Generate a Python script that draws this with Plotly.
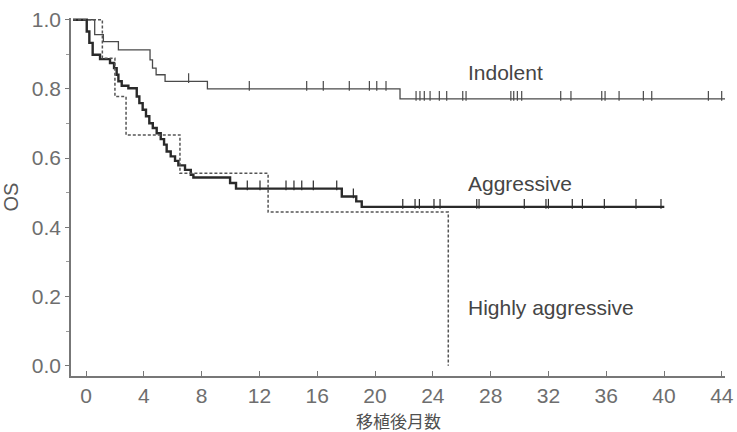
import numpy as np
import plotly.graph_objects as go

# ---- data (months, overall survival) ----
ind_t = [-0.9, 0.6, 1.2, 2.24, 4.43, 4.6, 4.85, 5.47, 8.4, 21.73, 44.7]
ind_s = [1.0, 0.957, 0.937, 0.913, 0.884, 0.860, 0.841, 0.822, 0.800, 0.771, 0.771]
ind_cens = [7.1, 11.3, 15.27, 16.42, 18.22, 19.61, 20.12, 20.76,
            22.84, 23.11, 23.41, 23.81, 24.45, 24.96, 26.07, 26.30,
            29.4, 29.6, 29.85, 30.15, 32.85, 33.56, 35.69, 35.92, 36.89,
            38.57, 39.15, 43.07, 43.99, 44.61]

agg_t = [-0.9, 0.05, 0.23, 0.46, 0.97, 1.66, 1.94, 2.12, 2.24, 2.47, 2.93,
         3.51, 3.69, 3.92, 4.15, 4.38, 4.62, 4.89, 5.17, 5.40, 5.58, 5.86,
         6.16, 6.39, 6.85, 7.25, 7.43, 9.97, 10.38, 17.7, 18.7, 19.08, 40.02]
agg_s = [1.0, 0.966, 0.933, 0.899, 0.886, 0.875, 0.860, 0.841, 0.822, 0.809, 0.802,
         0.778, 0.759, 0.740, 0.721, 0.701, 0.687, 0.672, 0.655, 0.639, 0.619, 0.605,
         0.592, 0.579, 0.566, 0.552, 0.544, 0.528, 0.512, 0.489, 0.475, 0.459, 0.459]
agg_cens = [11.16, 12.04, 13.84, 14.39, 14.93, 15.73, 17.35, 18.5,
            21.92, 22.77, 23.07, 24.08, 24.50, 27.04, 27.20, 30.33, 31.83, 32.0,
            33.65, 34.35, 35.87, 38.06, 39.79]

hig_t = [-0.9, 1.13, 2.0, 2.77, 6.5, 12.6, 25.07]
hig_s = [1.0, 0.889, 0.778, 0.667, 0.556, 0.444, 0.0]

labels = ["Indolent", "Aggressive", "Highly aggressive"]
label_x = [26.3, 26.3, 26.3]
label_y = [0.847, 0.526, 0.168]

x_ticks = list(range(0, 45, 4))
y_ticks = [0.0, 0.2, 0.4, 0.6, 0.8, 1.0]
x_title = "移植後月数"
y_title = "OS"


def step_value(ts, ss, t):
    i = np.searchsorted(np.asarray(ts), t, side="right") - 1
    return ss[max(i, 0)]


fig = go.Figure()

fig.add_trace(go.Scatter(x=ind_t, y=ind_s, mode="lines", line_shape="hv",
                         line=dict(color="#4a4a4a", width=1.3), showlegend=False))
fig.add_trace(go.Scatter(x=agg_t, y=agg_s, mode="lines", line_shape="hv",
                         line=dict(color="#2a2a2a", width=2.4), showlegend=False))
fig.add_trace(go.Scatter(x=hig_t, y=hig_s, mode="lines", line_shape="hv",
                         line=dict(color="#555555", width=1.5, dash="3px,2px"),
                         showlegend=False))

# censor marks (small vertical ticks standing on the curve)
tick_lift = 0.009
for ts, ss, cens, col in [(ind_t, ind_s, ind_cens, "#4a4a4a"),
                          (agg_t, agg_s, agg_cens, "#2a2a2a")]:
    cy = [step_value(ts, ss, c) + tick_lift for c in cens]
    fig.add_trace(go.Scatter(x=cens, y=cy, mode="markers",
                             marker=dict(symbol="line-ns", size=7,
                                         line=dict(color=col, width=1.2)),
                             showlegend=False, hoverinfo="skip"))

for txt, lx, ly in zip(labels, label_x, label_y):
    fig.add_annotation(x=lx, y=ly, text=txt, showarrow=False, xanchor="left",
                       yanchor="middle",
                       font=dict(family="Liberation Sans, Arial, sans-serif",
                                 size=21, color="#454545"))

# x-axis title placed just under the tick labels
fig.add_annotation(x=0.5, y=-0.123, xref="paper", yref="paper", text=x_title,
                   showarrow=False, xanchor="center", yanchor="middle",
                   font=dict(family="Noto Sans CJK JP", size=17, color="#505050"))

axis_font = dict(family="Liberation Sans, Arial, sans-serif", size=21, color="#6e6e6e")

fig.update_layout(
    width=737, height=432,
    margin=dict(l=71, r=12, t=18, b=56),
    paper_bgcolor="white", plot_bgcolor="white",
    xaxis=dict(range=[-1.04, 44.22], tickmode="array", tickvals=x_ticks,
               ticktext=[str(v) for v in x_ticks],
               showgrid=False, zeroline=False, showline=True,
               linecolor="#777777", linewidth=1.5,
               ticks="inside", ticklen=5, tickcolor="#777777",
               tickfont=axis_font, automargin=False),
    yaxis=dict(range=[-0.0297, 1.005], tickmode="array", tickvals=y_ticks,
               ticktext=[f"{v:.1f}" for v in y_ticks],
               showgrid=False, zeroline=False, showline=True,
               linecolor="#777777", linewidth=1.5,
               ticks="outside", ticklen=4, tickcolor="#777777",
               minor=dict(tickvals=[0.1, 0.3, 0.5, 0.7, 0.9], ticks="outside",
                          ticklen=3, tickcolor="#999999"),
               tickfont=axis_font, automargin=False,
               title=dict(text=y_title, standoff=8,
                          font=dict(family="Liberation Sans, Arial, sans-serif",
                                    size=20, color="#5a5a5a"))),
)

fig.write_html("out.html")
